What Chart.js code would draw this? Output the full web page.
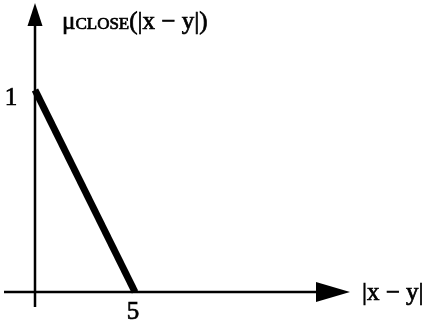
<!DOCTYPE html>
<html>
<head>
<meta charset="utf-8">
<script src="https://cdn.jsdelivr.net/npm/chart.js@4"></script>
<style>
  html, body { margin: 0; padding: 0; background: #fff; }
  #wrap { width: 425px; height: 331px; position: relative; }
</style>
</head>
<body>
<div id="wrap"><canvas id="c"></canvas></div>
<script>
// membership function of CLOSE over |x - y|
const distances = [0, 5];
const membership = [1, 0];
const xTickValues = [5];
const yTickValues = [1];
const xTickLabels = ['5'];
const yTickLabels = ['1'];

const serif = '"Liberation Serif", "DejaVu Serif", serif';

// text slightly heavier, like the printed original
function heavyText(ctx, txt, x, y) {
  ctx.fillText(txt, x, y);
  ctx.lineWidth = 0.7;
  ctx.strokeText(txt, x, y);
}

// axes, arrows and labels drawn on top of hidden scales
const axesPlugin = {
  id: 'arrowAxes',
  beforeDatasetsDraw(chart) {
    const { ctx, scales: { x, y } } = chart;
    const x0 = x.getPixelForValue(0);
    const y0 = y.getPixelForValue(0);
    ctx.save();
    ctx.strokeStyle = '#000';
    ctx.fillStyle = '#000';
    ctx.lineWidth = 2.5;

    // vertical axis
    ctx.beginPath();
    ctx.moveTo(x0, y0 + 15);
    ctx.lineTo(x0, 20);
    ctx.stroke();
    ctx.beginPath();
    ctx.moveTo(x0, 3);
    ctx.lineTo(x0 - 7.5, 26);
    ctx.lineTo(x0 + 7.5, 26);
    ctx.closePath();
    ctx.fill();

    // horizontal axis
    ctx.beginPath();
    ctx.moveTo(4, y0);
    ctx.lineTo(322, y0);
    ctx.stroke();
    ctx.beginPath();
    ctx.moveTo(350, y0);
    ctx.lineTo(316, y0 - 10);
    ctx.lineTo(316, y0 + 10);
    ctx.closePath();
    ctx.fill();

    // tick labels
    ctx.font = '25px ' + serif;
    ctx.textAlign = 'center';
    ctx.textBaseline = 'middle';
    xTickValues.forEach((v, i) => {
      heavyText(ctx, xTickLabels[i], x.getPixelForValue(v) - 2, y0 + 20);
    });
    yTickValues.forEach((v, i) => {
      heavyText(ctx, yTickLabels[i], 11, y.getPixelForValue(v) + 8);
    });

    // x axis title
    ctx.textAlign = 'left';
    heavyText(ctx, '|x \u2212 y|', 362, y0 + 1);

    // y axis title with small caps
    ctx.textBaseline = 'alphabetic';
    let tx = 62;
    const by = 29;
    ctx.font = '25px ' + serif;
    heavyText(ctx, '\u03BC', tx, by);
    tx += ctx.measureText('\u03BC').width;
    ctx.font = '17px ' + serif;
    heavyText(ctx, 'CLOSE', tx, by);
    tx += ctx.measureText('CLOSE').width;
    ctx.font = '25px ' + serif;
    heavyText(ctx, '(|x \u2212 y|)', tx, by);
    ctx.restore();
  }
};

new Chart(document.getElementById('c'), {
  type: 'line',
  data: {
    datasets: [{
      data: distances.map((d, i) => ({ x: d, y: membership[i] })),
      borderColor: '#000',
      borderWidth: 7,
      pointRadius: 0,
      fill: false,
      tension: 0,
    }],
  },
  options: {
    responsive: true,
    maintainAspectRatio: false,
    animation: false,
    layout: { padding: 0 },
    plugins: { legend: { display: false }, tooltip: { enabled: false } },
    scales: {
      x: { type: 'linear', display: false, min: -1.75, max: 19.5 },
      y: { type: 'linear', display: false, min: -0.193, max: 1.4455 },
    },
  },
  plugins: [axesPlugin],
});
</script>
</body>
</html>
